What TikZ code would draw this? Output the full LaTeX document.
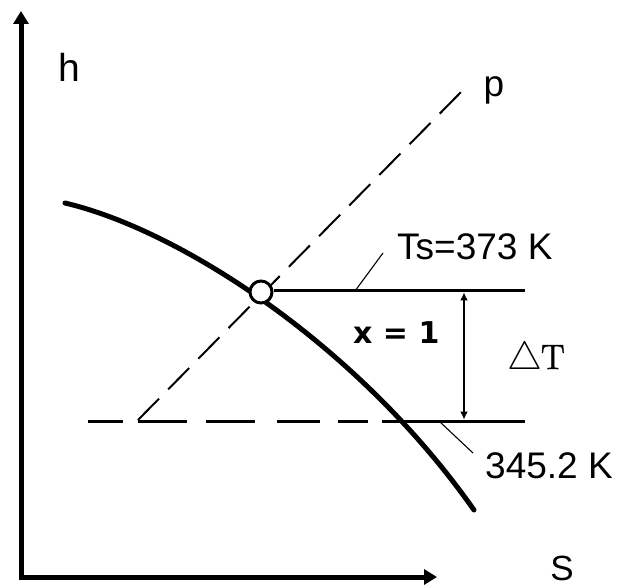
\documentclass[tikz,border=0pt]{standalone}
\usepackage{fontspec}
\usepackage{graphicx}
\setmainfont{Liberation Sans}
\newfontfamily\dvsans{DejaVu Sans}
\newfontfamily\lmroman{Latin Modern Roman}[FakeBold=1.5]
\usetikzlibrary{arrows.meta}
\begin{document}
\begin{tikzpicture}[x=1pt,y=-1pt,
  axis/.style={line width=5pt,-{Triangle[length=13pt,width=15pt]}},
  isoline/.style={line width=3pt},
  leader/.style={line width=1.1pt},
  lbl/.style={inner sep=0pt,font=\fontsize{37}{40}\selectfont}]
\useasboundingbox (0,0) rectangle (619,588);
% axes
\coordinate (O) at (21,577);
\coordinate (Htip) at (21,11);
\coordinate (Stip) at (437,577);
\draw[axis] (O) ++(0,2.5) -- (Htip);
\draw[axis] (O) ++(-2.5,0) -- (Stip);
\node[lbl,anchor=base,font=\fontsize{39}{42}\selectfont] (hl) at (69,82) {h};
\node[lbl,anchor=base,font=\fontsize{35}{38}\selectfont] (sl) at (562,580) {S};
% isobar p (dashed)
\coordinate (pa) at (138,420);
\coordinate (pb) at (464,89);
\draw[line width=2pt,dash pattern=on 30pt off 13pt] (pa) -- (pb);
\node[lbl,anchor=base] (pl) at (494,97) {p};
% lower isotherm: dashed part then solid
\coordinate (l1a) at (88,421);  \coordinate (l1b) at (123,421);
\coordinate (l2a) at (138,421); \coordinate (l2b) at (187,421);
\coordinate (l3a) at (206,421); \coordinate (l3b) at (255,421);
\coordinate (l4a) at (277,421); \coordinate (l4b) at (320,421);
\coordinate (l5a) at (338,421); \coordinate (l5b) at (368,421);
\coordinate (l6a) at (382,421); \coordinate (l6b) at (525,421);
\foreach \i in {1,...,6} {\draw[isoline] (l\i a) -- (l\i b);}
% saturation curve
\coordinate (ca) at (65,203);
\coordinate (cb) at (474,510);
\draw[line width=5pt,line cap=round] (ca) .. controls (180,230) and (358,345) .. (cb);
% saturation point
\node[circle,draw,line width=3pt,fill=white,minimum size=22pt,inner sep=0pt] (cp) at (261,292) {};
% upper isotherm
\coordinate (ue) at (525,291);
\draw[isoline] (cp.east |- 0,291) -- (ue);
% delta T arrow
\coordinate (dt1) at (464,292.5);
\coordinate (dt2) at (464,419.5);
\draw[line width=1.3pt,{Latex[length=8pt,width=8pt]}-{Latex[length=8pt,width=8pt]}] (dt1) -- (dt2);
% labels
\node[lbl,anchor=base west] (ts) at (397,260) {Ts=373 K};
\coordinate (tsa) at (355,291);
\coordinate (tsb) at (383,253);
\draw[leader] (tsa) -- (tsb);
\node[lbl,anchor=base west] (t2) at (485,478) {345.2 K};
\coordinate (t2a) at (440,422);
\coordinate (t2b) at (473,453);
\draw[leader] (t2a) -- (t2b);
\node[inner sep=0pt,anchor=base west,font=\dvsans\bfseries\fontsize{30}{32}\selectfont] (xl) at (353,343) {x = 1};
\node[inner sep=0pt,anchor=base west,font=\lmroman\fontsize{35}{38}\selectfont] (dl) at (507,369) {\resizebox{35pt}{!}{$\triangle$}\kern-1pt T};
\end{tikzpicture}
\end{document}
